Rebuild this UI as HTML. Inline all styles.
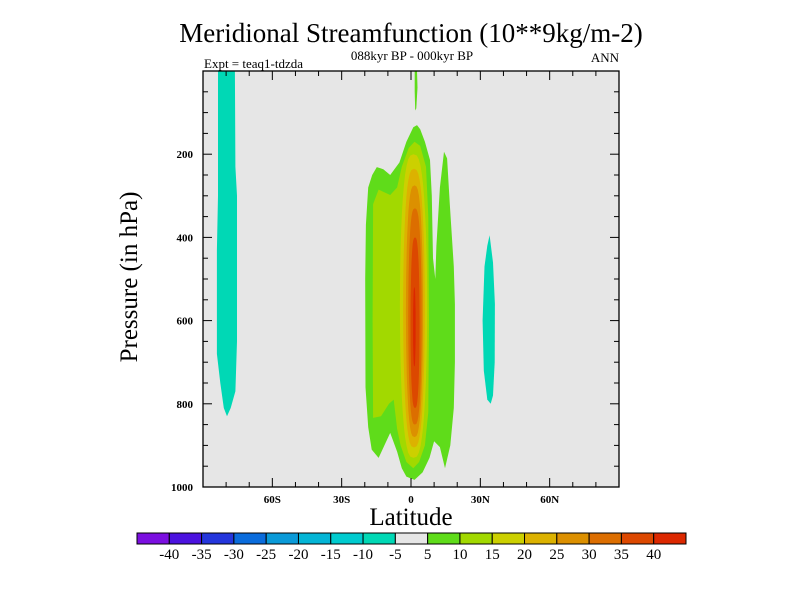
<!DOCTYPE html>
<html><head><meta charset="utf-8"><style>
html,body{margin:0;padding:0;background:#fff;}
svg{display:block;font-family:"Liberation Serif",serif;}
</style></head><body>
<svg id="chart" width="800" height="600" viewBox="0 0 800 600">
<text x="411" y="42" font-size="27" text-anchor="middle">Meridional Streamfunction (10**9kg/m-2)</text>
<text x="412" y="60" font-size="13" text-anchor="middle">088kyr BP - 000kyr BP</text>
<text x="204" y="68" font-size="13">Expt = teaq1-tdzda</text>
<text x="619" y="62" font-size="13" text-anchor="end">ANN</text>
<rect x="203" y="71" width="416" height="416" fill="#e6e6e6"/>
<g id="contours"></g>
<g id="axes"></g>
<rect x="203" y="71" width="416" height="416" fill="none" stroke="#000" stroke-width="1.3"/>
<text x="411" y="525" font-size="25" text-anchor="middle">Latitude</text>
<text transform="translate(137,277) rotate(-90)" font-size="25" text-anchor="middle">Pressure (in hPa)</text>
<g id="colorbar"></g>
</svg>
<script>
// Axis data
const xTickValues = [-60, -30, 0, 30, 60];
const xTickLabels = ["60S", "30S", "0", "30N", "60N"];
const yTickValues = [200, 400, 600, 800, 1000];
const yTickLabels = ["200", "400", "600", "800", "1000"];
// Colorbar data
const levelLabels = ["-40","-35","-30","-25","-20","-15","-10","-5","5","10","15","20","25","30","35","40"];
const levelColors = ["#7b0fe0","#4b12df","#2436dc","#0a6cdc","#0a9ad8","#04b5d6","#00cbcf","#00d8b5","#e6e6e6","#5fdc1a","#a2d900","#ccd000","#dcb200","#dc9000","#dc6e00","#dc4800","#dc2800"];
// Contour polygons, [latitude, pressure]
const cyanLeft = [[-83.5,0],[-76.2,0],[-76,230],[-75.3,300],[-75.3,650],[-76,770],[-78,810],[-79.6,830],[-81,810],[-82.5,750],[-84,680],[-84,430],[-83.5,300]];
const cyanRight = [[34,395],[35.5,460],[36.3,560],[36.2,700],[35.5,780],[34.5,800],[33,790],[31.5,720],[31,600],[31.8,470],[33,420]];
const greenTop = [[1.6,0],[2.6,0],[2.8,40],[2.3,90],[1.8,95],[1.6,50]];
const green5 = [[-19.5,370],[-18.5,280],[-16.8,250],[-14.8,231],[-12,236],[-9,250],[-5,220],[-2,170],[1,135],[2.6,130],[4,140],[6,170],[8.2,214],[9,300],[9.5,450],[10.5,500],[11,420],[12.5,280],[14.3,194],[15.6,210],[16.8,320],[18.5,470],[19,560],[19,700],[18.5,810],[17,900],[14.7,955],[12.5,904],[10,890],[8,930],[5,965],[1.5,983],[-2,975],[-4,955],[-6,915],[-9,870],[-11.5,900],[-14,930],[-17,910],[-18.5,856],[-19.7,760],[-19.8,500]];
const green10 = [[-16.4,320],[-14,285],[-9,298],[-6,280],[-4,230],[-1,185],[1.5,170],[4,180],[6.5,230],[7.5,350],[7.8,600],[7.5,820],[6,900],[3.5,940],[1,955],[-2,940],[-4.5,900],[-6,860],[-7.5,790],[-9.5,800],[-13,830],[-16.4,834],[-16.6,600]];
// nested contour levels (index into levelColors) and their extents
const ovalLevels = [11, 12, 13, 14, 15, 16];
const ovalLatMin = [-4.8, -3.4, -2.2, -1.2, -0.2, 0.9];
const ovalLatMax = [7.0, 6.0, 5.2, 4.6, 3.7, 2.0];
const ovalPTop = [200, 235, 275, 330, 400, 520];
const ovalPBot = [930, 905, 880, 850, 810, 710];

const X0=203, X1=619, Y0=71, Y1=487;
const xS = lat => X0 + (lat + 90) / 180 * (X1 - X0);
const yS = p => Y0 + p / 1000 * (Y1 - Y0);
const NS = "http://www.w3.org/2000/svg";
const cg = document.getElementById("contours");
function poly(pts, color, name) {
  const e = document.createElementNS(NS, "polygon");
  e.setAttribute("points", pts.map(d => xS(d[0]).toFixed(1) + "," + yS(d[1]).toFixed(1)).join(" "));
  e.setAttribute("fill", color);
  
  
  cg.appendChild(e);
}
poly(cyanLeft, levelColors[7], "contour-neg10-south");
poly(cyanRight, levelColors[7], "contour-neg10-north");
poly(greenTop, levelColors[9], "contour-5-upper");
poly(green5, levelColors[9], "contour-5-main");
poly(green10, levelColors[10], "contour-10-main");
ovalLevels.forEach((lv, i) => {
  const cx = (ovalLatMin[i] + ovalLatMax[i]) / 2, rx = (ovalLatMax[i] - ovalLatMin[i]) / 2;
  const cy = (ovalPTop[i] + ovalPBot[i]) / 2, ry = (ovalPBot[i] - ovalPTop[i]) / 2;
  const pts = [];
  for (let k = 0; k < 48; k++) {
    const t = k / 48 * 2 * Math.PI;
    const c = Math.cos(t);
    pts.push([cx + rx * Math.sign(c) * Math.pow(Math.abs(c), 0.7), cy + ry * Math.sin(t)]);
  }
  poly(pts, levelColors[lv], "contour-level-" + levelLabels[lv - 1]);
});

const ag = document.getElementById("axes");
function line(x1, y1, x2, y2, name) {
  const l = document.createElementNS(NS, "line");
  l.setAttribute("x1", x1); l.setAttribute("y1", y1); l.setAttribute("x2", x2); l.setAttribute("y2", y2);
  l.setAttribute("stroke", "#000"); l.setAttribute("stroke-width", "1");
  
  
  ag.appendChild(l);
}
function txt(x, y, s, anchor, size, name) {
  const t = document.createElementNS(NS, "text");
  t.setAttribute("x", x); t.setAttribute("y", y); t.setAttribute("text-anchor", anchor);
  t.setAttribute("font-size", size); t.setAttribute("font-weight", "bold");
  t.textContent = s;
  
  
  ag.appendChild(t);
}
for (let lat = -80; lat <= 80; lat += 10) {
  const major = lat % 30 === 0, len = major ? 9 : 5, x = xS(lat);
  line(x, Y1, x, Y1 - len, "x-tick");
  line(x, Y0, x, Y0 + len, "x-tick-top");
}
xTickValues.forEach((v, i) => txt(xS(v), 503, xTickLabels[i], "middle", 11, "x-tick-label"));
for (let p = 50; p < 1000; p += 50) {
  const major = p % 200 === 0, len = major ? 9 : 5, y = yS(p);
  line(X0, y, X0 + len, y, "y-tick");
  line(X1, y, X1 - len, y, "y-tick-right");
}
yTickValues.forEach((v, i) => txt(193, yS(v) + 4, yTickLabels[i], "end", 11, "y-tick-label"));

const cb = document.getElementById("colorbar");
const bx0 = 137, bx1 = 686, by = 533, bh = 11, bw = (bx1 - bx0) / levelColors.length;
levelColors.forEach((c, i) => {
  const r = document.createElementNS(NS, "rect");
  r.setAttribute("x", bx0 + i * bw); r.setAttribute("y", by); r.setAttribute("width", bw); r.setAttribute("height", bh);
  r.setAttribute("fill", c); r.setAttribute("stroke", "#000"); r.setAttribute("stroke-width", "1");
  
  
  cb.appendChild(r);
});
levelLabels.forEach((s, i) => {
  const t = document.createElementNS(NS, "text");
  t.setAttribute("x", bx0 + (i + 1) * bw); t.setAttribute("y", 559); t.setAttribute("text-anchor", "middle");
  t.setAttribute("font-size", "15");
  t.textContent = s;
  
  
  cb.appendChild(t);
});
</script>
</body></html>
